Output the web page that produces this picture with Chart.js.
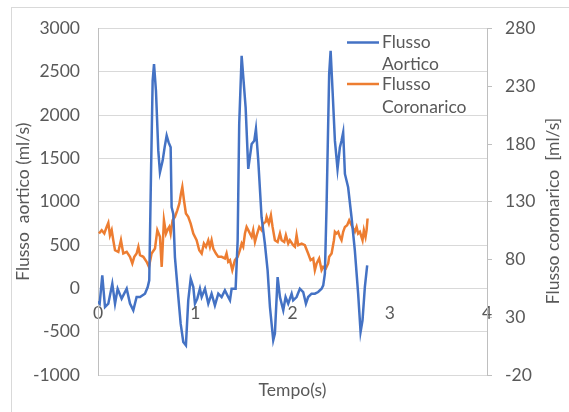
<!DOCTYPE html>
<html>
<head>
<meta charset="utf-8">
<script src="https://cdn.jsdelivr.net/npm/chart.js@4.4.1/dist/chart.umd.min.js"></script>
<style>
  body { margin: 0; background: #fff; }
  #wrap { position: relative; width: 569px; height: 412px; }
  #frame { position: absolute; left: 11px; top: 7px; right: 0; bottom: 0; border-top: 1px solid #d9d9d9; border-left: 1px solid #d9d9d9; pointer-events: none; }
  canvas { position: absolute; left: 0; top: 0; }
</style>
</head>
<body>
<div id="wrap">
  <canvas id="flowChart" width="569" height="412"></canvas>
  <div id="frame"></div>
</div>
<script>
// time (s) and aortic flow (ml/s), left axis
const aorticTime = [0.0, 0.017, 0.044, 0.072, 0.106, 0.147, 0.175, 0.202, 0.243, 0.295, 0.329, 0.363, 0.397, 0.432, 0.483, 0.511, 0.527, 0.545, 0.562, 0.576, 0.596, 0.620, 0.637,
  0.665, 0.685, 0.706, 0.726, 0.747, 0.757, 0.774, 0.791, 0.826, 0.850, 0.877, 0.904, 0.928, 0.953, 0.980, 0.997, 1.021, 1.048, 1.066, 1.100, 1.134, 1.168, 1.202, 1.237, 1.271, 1.305, 1.339,
  1.357, 1.374, 1.415, 1.436, 1.452, 1.477, 1.497, 1.518, 1.545, 1.580, 1.607, 1.624, 1.648, 1.682, 1.716, 1.744, 1.768, 1.802, 1.819, 1.847, 1.871, 1.905, 1.929, 1.956, 1.991,
  2.007, 2.042, 2.076, 2.110, 2.138, 2.161, 2.196, 2.230, 2.264, 2.299, 2.316, 2.333, 2.350, 2.377, 2.392, 2.412, 2.436, 2.463, 2.487, 2.504, 2.521, 2.539, 2.572, 2.607, 2.641, 2.675, 2.700, 2.720, 2.744, 2.768];
const aorticFlow = [-150, -176, 150, -215, -176, 54, -176, -4, -119, -4, -176, -253, -100, -100, -61, 15, 92, 1321, 2396, 2588, 2281, 1590, 1340,
  1475, 1628, 1763, 1685, 1628, 937, 860, 361, -100, -407, -618, -657, -138, 111, 15, -176, -119, -4, -100, -4, -176, -61, -196, -61, -100, -23, -100,
  -138, -4, -4, 553, 1897, 2684, 2396, 2089, 1379, 1667, 1705, 1840, 1475, 821, 515, 207, -215, -599, -522, 130, -100, -253, -100, -176, -61,
  -138, -100, -4, -42, -176, -100, -61, -61, -42, -4, 35, 169, 937, 2473, 2742, 2281, 1705, 1379, 1628, 1705, 1801, 1321, 1167, 821, 438, -61, -503, -369, 15, 265];

// time (s) and coronary flow (ml/s), right axis
const coronaryTime = [0.010, 0.038, 0.065, 0.089, 0.106, 0.123, 0.141, 0.157, 0.175, 0.209, 0.236, 0.260, 0.295, 0.329, 0.353, 0.373, 0.397, 0.415, 0.432, 0.466, 0.500, 0.524, 0.551, 0.586, 0.610, 0.637,
  0.655, 0.678, 0.699, 0.713, 0.733, 0.747, 0.767, 0.791, 0.815, 0.836, 0.853, 0.867, 0.884, 0.904, 0.928, 0.953, 0.980, 1.014, 1.041, 1.066, 1.089, 1.110, 1.134, 1.151, 1.168, 1.185, 1.213, 1.237, 1.271, 1.305, 1.322, 1.339,
  1.357, 1.381, 1.408, 1.436, 1.459, 1.477, 1.493, 1.511, 1.528, 1.545, 1.562, 1.580, 1.596, 1.614, 1.637, 1.658, 1.682, 1.699, 1.724, 1.734, 1.757, 1.778, 1.795, 1.819, 1.847, 1.871, 1.888, 1.915, 1.932, 1.956, 1.973, 2.007,
  2.025, 2.042, 2.059, 2.094, 2.127, 2.161, 2.186, 2.213, 2.230, 2.248, 2.274, 2.299, 2.316, 2.343, 2.367, 2.377, 2.402, 2.426, 2.436, 2.453, 2.470, 2.487, 2.504, 2.521, 2.539, 2.562, 2.583, 2.607, 2.624, 2.641, 2.659, 2.675, 2.693, 2.720, 2.734, 2.751, 2.762, 2.772];
const coronaryFlow = [102.5, 105.4, 102.5, 108.2, 111.7, 101, 105.4, 96.7, 88, 86.6, 96.7, 85.2, 86.6, 82.3, 76.6, 82.3, 85.2, 91, 83.7, 82.3, 78, 73.6, 85.2, 89.5, 105.4, 99.6,
  73.6, 114, 102.5, 105.4, 108.2, 102.5, 114, 116.9, 122.6, 128.4, 137, 142.8, 131.3, 119.8, 116.9, 111.1, 102.5, 96.7, 88, 85.2, 93.8, 91, 96.7, 91, 96.7, 89.5, 85.2, 82.3, 82.3, 80.9, 85.2, 78,
  79.4, 70.8, 79.4, 82.3, 88, 93.8, 91, 102.5, 108.2, 105.4, 102.5, 99.6, 105.4, 95.2, 102.5, 108.2, 105.4, 111.1, 112.6, 116.9, 111.1, 118.3, 108.2, 96.7, 95.2, 102.5, 96.7, 95.2, 101, 93.8, 96.7, 92.4,
  91, 101, 92.4, 93.8, 92.4, 85.2, 79.4, 80.9, 70.8, 76.6, 80.9, 70.8, 73.6, 72.2, 76.6, 82.3, 85.2, 96.7, 104, 102.5, 104, 99.6, 96.7, 104, 108.2, 109.7, 114, 109.7, 106.8, 104, 108.2, 102.5, 104, 96.7, 105.4, 99.6, 105.4, 115.5];

const seriesNames = [["Flusso", "Aortico"], ["Flusso", "Coronarico"]];
const seriesColors = ["#4472C4", "#ED7D31"];

const xRange = [0, 4];
const leftRange = [-1000, 3000];
const rightRange = [-20, 280];

const textColor = "#595959";
const fontFamily = "Lato, 'Open Sans', sans-serif";
Chart.defaults.font.family = fontFamily;
Chart.defaults.font.size = 17.5;
Chart.defaults.color = textColor;

function toPoints(xs, ys) {
  return xs.map((x, i) => ({ x: x, y: ys[i] }));
}

// legend + right axis title, drawn by hand (two-line labels, bottom-to-top title)
const extrasPlugin = {
  id: "extras",
  afterDraw(chart) {
    const ctx = chart.ctx;
    ctx.save();
    ctx.font = "17.5px " + fontFamily;
    ctx.fillStyle = textColor;
    ctx.textBaseline = "middle";
    const rows = [[42.5, 64.5], [84, 107]];
    seriesNames.forEach((name, i) => {
      ctx.strokeStyle = seriesColors[i];
      ctx.lineWidth = 2.5;
      ctx.beginPath();
      ctx.moveTo(347, rows[i][0]);
      ctx.lineTo(379, rows[i][0]);
      ctx.stroke();
      ctx.fillText(name[0], 382, rows[i][0]);
      ctx.fillText(name[1], 382, rows[i][1]);
    });
    ctx.translate(553, 211);
    ctx.rotate(-Math.PI / 2);
    ctx.textAlign = "center";
    ctx.fillText("Flusso coronarico  [ml/s]", 0, 0);
    ctx.restore();
  }
};

new Chart(document.getElementById("flowChart"), {
  type: "line",
  data: {
    datasets: [
      {
        label: seriesNames[0].join(" "),
        data: toPoints(aorticTime, aorticFlow),
        borderColor: seriesColors[0],
        borderWidth: 2.5,
        pointRadius: 0,
        yAxisID: "y",
        xAxisID: "x"
      },
      {
        label: seriesNames[1].join(" "),
        data: toPoints(coronaryTime, coronaryFlow),
        borderColor: seriesColors[1],
        borderWidth: 2.5,
        pointRadius: 0,
        yAxisID: "y1",
        xAxisID: "x"
      }
    ]
  },
  options: {
    responsive: false,
    animation: false,
    devicePixelRatio: 1,
    layout: { padding: { top: 28, left: 0, right: 0, bottom: 0 } },
    plugins: { legend: { display: false }, tooltip: { enabled: false } },
    scales: {
      x: {
        type: "linear",
        position: { y: 0 },
        min: xRange[0],
        max: xRange[1],
        ticks: { stepSize: 1, padding: 14, maxRotation: 0 },
        grid: { display: false, drawTicks: false },
        border: { display: false }
      },
      xTitle: {
        type: "linear",
        axis: "x",
        position: "bottom",
        min: xRange[0],
        max: xRange[1],
        ticks: { display: false },
        grid: { display: false, drawTicks: false },
        border: { display: false },
        title: { display: true, text: "Tempo(s)", padding: { top: 0, bottom: 11 } },
        afterFit(scale) { scale.height = 37; }
      },
      y: {
        position: "left",
        min: leftRange[0],
        max: leftRange[1],
        ticks: { stepSize: 500, padding: 18, callback: (v) => String(v) },
        grid: { color: "#d9d9d9", drawTicks: false },
        border: { display: true, color: "#bfbfbf" },
        title: { display: true, text: "Flusso  aortico (ml/s)", padding: { top: 13, bottom: 0 } },
        afterFit(scale) { scale.width = 98; }
      },
      y1: {
        position: "right",
        min: rightRange[0],
        max: rightRange[1],
        ticks: { stepSize: 50, padding: 13, callback: (v) => String(v) },
        grid: { drawOnChartArea: false, drawTicks: true, tickLength: 5, color: "#bfbfbf" },
        border: { display: true, color: "#bfbfbf" },
        afterFit(scale) { scale.width = 82; }
      }
    }
  },
  plugins: [extrasPlugin]
});
</script>
</body>
</html>
